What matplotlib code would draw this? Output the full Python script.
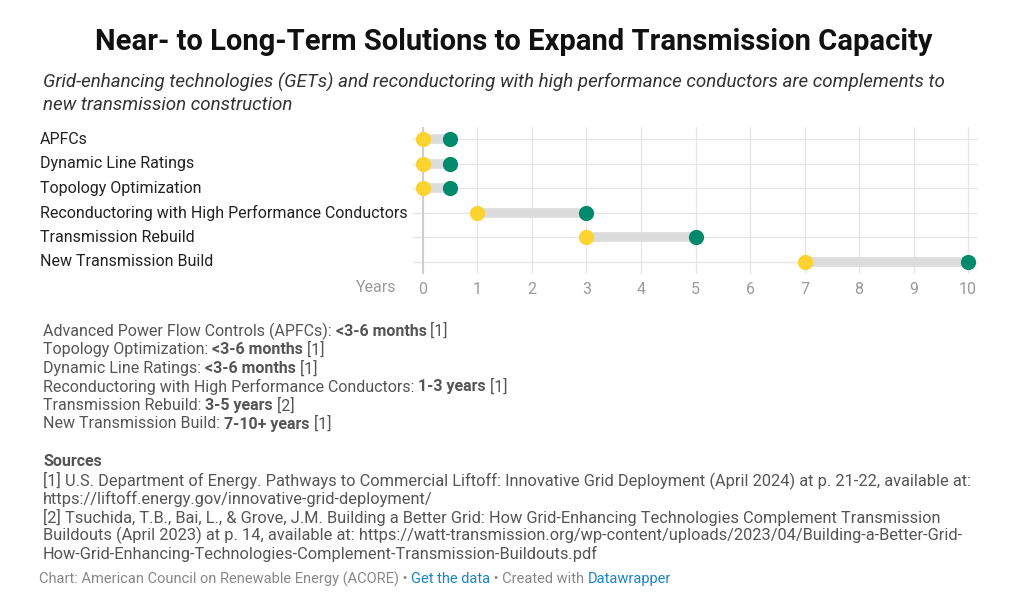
import matplotlib
matplotlib.use('Agg')
import matplotlib.pyplot as plt

plt.rcParams['font.family'] = ['Roboto', 'DejaVu Sans']

categories = ['APFCs', 'Dynamic Line Ratings', 'Topology Optimization',
              'Reconductoring with High Performance Conductors',
              'Transmission Rebuild', 'New Transmission Build']
start_years = [0, 0, 0, 1, 3, 7]
end_years = [0.5, 0.5, 0.5, 3, 5, 10]
x_ticks = [0, 1, 2, 3, 4, 5, 6, 7, 8, 9, 10]

notes = [
    [('Advanced Power Flow Controls (APFCs): ', 'normal'), ('<3-6 months', 'bold'), (' [1]', 'normal')],
    [('Topology Optimization: ', 'normal'), ('<3-6 months', 'bold'), (' [1]', 'normal')],
    [('Dynamic Line Ratings: ', 'normal'), ('<3-6 months', 'bold'), (' [1]', 'normal')],
    [('Reconductoring with High Performance Conductors: ', 'normal'), ('1-3 years', 'bold'), (' [1]', 'normal')],
    [('Transmission Rebuild: ', 'normal'), ('3-5 years', 'bold'), (' [2]', 'normal')],
    [('New Transmission Build: ', 'normal'), ('7-10+ years', 'bold'), (' [1]', 'normal')],
]
sources = [
    '[1] U.S. Department of Energy. Pathways to Commercial Liftoff: Innovative Grid Deployment (April 2024) at p. 21-22, available at:',
    'https://liftoff.energy.gov/innovative-grid-deployment/',
    '[2] Tsuchida, T.B., Bai, L., & Grove, J.M. Building a Better Grid: How Grid-Enhancing Technologies Complement Transmission',
    'Buildouts (April 2023) at p. 14, available at: https://watt-transmission.org/wp-content/uploads/2023/04/Building-a-Better-Grid-',
    'How-Grid-Enhancing-Technologies-Complement-Transmission-Buildouts.pdf',
]

W, H = 1014, 600
YELLOW = '#fdd330'
GREEN = '#00896b'


def px(x, y):
    return x / W, 1 - y / H


def rich_line(fig, renderer, x, y, parts, size, color):
    # draw pieces one after the other, measuring each
    cx = x
    for txt, weight, *col in parts:
        t = fig.text(*px(cx, y), txt, fontsize=size, fontweight=weight,
                     color=col[0] if col else color, va='center', ha='left')
        bb = t.get_window_extent(renderer)
        cx += bb.width


fig = plt.figure(figsize=(W / 100, H / 100), dpi=100)
renderer = fig.canvas.get_renderer()

ax = fig.add_axes([413 / W, 1 - 274 / H, (978 - 413) / W, (274 - 127) / H])
ypos = list(range(len(categories)))
for y, s, e in zip(ypos, start_years, end_years):
    ax.plot([s, e], [y, y], color='#dcdcdc', lw=7, solid_capstyle='butt', zorder=2)
ax.scatter(start_years, ypos, s=120, color=YELLOW, zorder=3, linewidths=0)
ax.scatter(end_years, ypos, s=120, color=GREEN, zorder=4, linewidths=0)

ax.set_xlim(-0.18, 10.18)
ax.set_ylim(len(categories) - 0.5, -0.5)
ax.set_xticks(x_ticks)
ax.set_yticks(ypos)
ax.set_yticklabels([])
ax.tick_params(axis='x', length=0, labelsize=11.5, labelcolor='#9a9a9a', pad=6)
ax.tick_params(axis='y', length=0)
ax.grid(True, color='#e6e6e6', lw=1, zorder=0)
ax.axvline(0, color='#c8c8c8', lw=1.2, zorder=1)
for sp in ax.spines.values():
    sp.set_visible(False)
ax.set_axisbelow(True)

for i, c in enumerate(categories):
    fig.text(*px(40, 139 + i * 24.6), c, fontsize=11.5, color='#222222', va='center', ha='left')
fig.text(*px(396, 288), 'Years', fontsize=11.5, color='#9a9a9a', va='center', ha='right')

fig.text(*px(514, 42), 'Near- to Long-Term Solutions to Expand Transmission Capacity',
         fontsize=21, fontweight='bold', color='#111111', ha='center', va='center')
fig.text(*px(43, 82), 'Grid-enhancing technologies (GETs) and reconductoring with high performance conductors are complements to',
         fontsize=13.5, style='italic', color='#333333', ha='left', va='center')
fig.text(*px(43, 105), 'new transmission construction',
         fontsize=13.5, style='italic', color='#333333', ha='left', va='center')

for i, parts in enumerate(notes):
    rich_line(fig, renderer, 43, 331 + i * 18.6, parts, 11.5, '#555555')

fig.text(*px(43, 462), 'Sources', fontsize=11.5, fontweight='bold', color='#555555', va='center')
for i, line in enumerate(sources):
    fig.text(*px(43, 480 + i * 18.6), line, fontsize=11.8, color='#555555', va='center')

rich_line(fig, renderer, 39, 579,
          [('Chart: American Council on Renewable Energy (ACORE) \u2022 ', 'normal'),
           ('Get the data', 'normal', '#1a84c7'),
           (' \u2022 Created with ', 'normal'),
           ('Datawrapper', 'normal', '#1a84c7')], 10.5, '#888888')

fig.savefig('out.png', dpi=100)
